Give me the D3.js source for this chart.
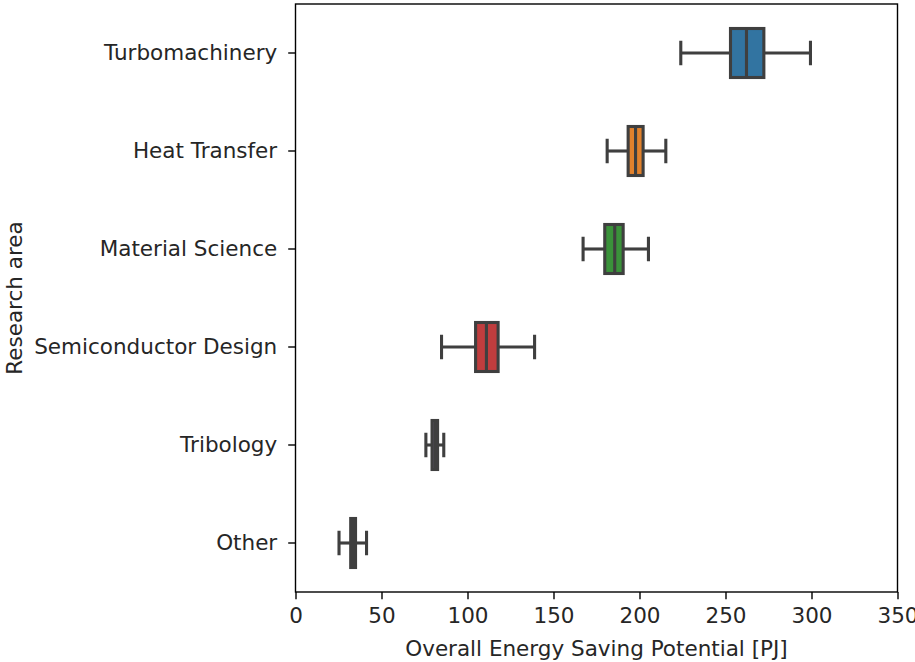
<!DOCTYPE html>
<html>
<head>
<meta charset="utf-8">
<script src="https://cdn.jsdelivr.net/npm/d3@7"></script>
<style>
  body { margin: 0; background: #fff; }
  text { font-family: "DejaVu Sans", sans-serif; }
</style>
</head>
<body>
<div id="chart"></div>
<script>
// data
const categories = ["Turbomachinery", "Heat Transfer", "Material Science", "Semiconductor Design", "Tribology", "Other"];
const whiskerLow  = [224.0, 181.2, 167.2, 84.9, 75.8, 25.3];
const q1          = [252.9, 193.4, 179.8, 104.7, 79.4, 32.1];
const median      = [262.2, 197.7, 185.6, 111.0, 81.0, 33.5];
const q3          = [272.3, 202.1, 190.5, 117.8, 82.6, 34.9];
const whiskerHigh = [299.4, 215.3, 205.2, 139.0, 86.2, 41.3];
const xTicks = [0, 50, 100, 150, 200, 250, 300, 350];

const colors = ["#3274a1", "#e1812c", "#3a923a", "#c03d3e", "#9372b2", "#845b53"];
const lineColor = "#3f3f3f";

const W = 915, H = 662;
const margin = {top: 4, right: 17.5, bottom: 70, left: 295.5};
const width = W - margin.left - margin.right,
      height = H - margin.top - margin.bottom;

const fontSize = 21.5;

const svg = d3.select("#chart")
    .append("svg")
    .attr("width", W)
    .attr("height", H);

const g = svg.append("g")
    .attr("transform", `translate(${margin.left}, ${margin.top})`);

const x = d3.scaleLinear()
    .domain([0, 350])
    .range([0, width]);

const y = d3.scaleBand()
    .domain(categories)
    .range([0, height])
    .padding(0);

const boxH = y.bandwidth() * 0.5;
const capH = boxH / 2;

const rows = categories.map((c, i) => ({
    cat: c, lo: whiskerLow[i], q1: q1[i], med: median[i], q3: q3[i], hi: whiskerHigh[i], color: colors[i]
}));

const box = g.selectAll("g.box")
    .data(rows)
    .join("g")
    .attr("class", "box")
    .attr("transform", d => `translate(0, ${y(d.cat) + y.bandwidth() / 2})`);

// whiskers
box.append("line")
    .attr("x1", d => x(d.lo)).attr("x2", d => x(d.q1))
    .attr("stroke", lineColor).attr("stroke-width", 3.1);
box.append("line")
    .attr("x1", d => x(d.q3)).attr("x2", d => x(d.hi))
    .attr("stroke", lineColor).attr("stroke-width", 3.1);
// caps
box.append("line")
    .attr("x1", d => x(d.lo)).attr("x2", d => x(d.lo))
    .attr("y1", -capH / 2).attr("y2", capH / 2)
    .attr("stroke", lineColor).attr("stroke-width", 3.1);
box.append("line")
    .attr("x1", d => x(d.hi)).attr("x2", d => x(d.hi))
    .attr("y1", -capH / 2).attr("y2", capH / 2)
    .attr("stroke", lineColor).attr("stroke-width", 3.1);
// box
box.append("rect")
    .attr("x", d => x(d.q1))
    .attr("width", d => x(d.q3) - x(d.q1))
    .attr("y", -boxH / 2)
    .attr("height", boxH)
    .attr("fill", d => d.color)
    .attr("stroke", lineColor)
    .attr("stroke-width", 3.1);
// median
box.append("line")
    .attr("x1", d => x(d.med)).attr("x2", d => x(d.med))
    .attr("y1", -boxH / 2).attr("y2", boxH / 2)
    .attr("stroke", lineColor).attr("stroke-width", 3.1);

// axes
const xAxis = g.append("g")
    .attr("transform", `translate(0, ${height})`)
    .call(d3.axisBottom(x).tickValues(xTicks).tickSize(7.3).tickPadding(8.5).tickSizeOuter(0));

const yAxis = g.append("g")
    .call(d3.axisLeft(y).tickSize(7.3).tickPadding(11).tickSizeOuter(0));

[xAxis, yAxis].forEach(a => {
    a.select(".domain").remove();
    a.selectAll("line").attr("stroke", "#000").attr("stroke-width", 1.4);
    a.selectAll("text")
        .attr("fill", "#262626")
        .style("font-size", fontSize + "px")
        .style("font-family", "'DejaVu Sans', sans-serif");
});

// frame
g.append("rect")
    .attr("width", width)
    .attr("height", height)
    .attr("fill", "none")
    .attr("stroke", "#000")
    .attr("stroke-width", 1.4);

// axis labels
svg.append("text")
    .attr("x", margin.left + width / 2)
    .attr("y", 656)
    .attr("text-anchor", "middle")
    .attr("fill", "#262626")
    .style("font-size", fontSize + "px")
    .text("Overall Energy Saving Potential [PJ]");

svg.append("text")
    .attr("transform", `translate(21.5, ${margin.top + height / 2}) rotate(-90)`)
    .attr("text-anchor", "middle")
    .attr("fill", "#262626")
    .style("font-size", fontSize + "px")
    .text("Research area");
</script>
</body>
</html>
